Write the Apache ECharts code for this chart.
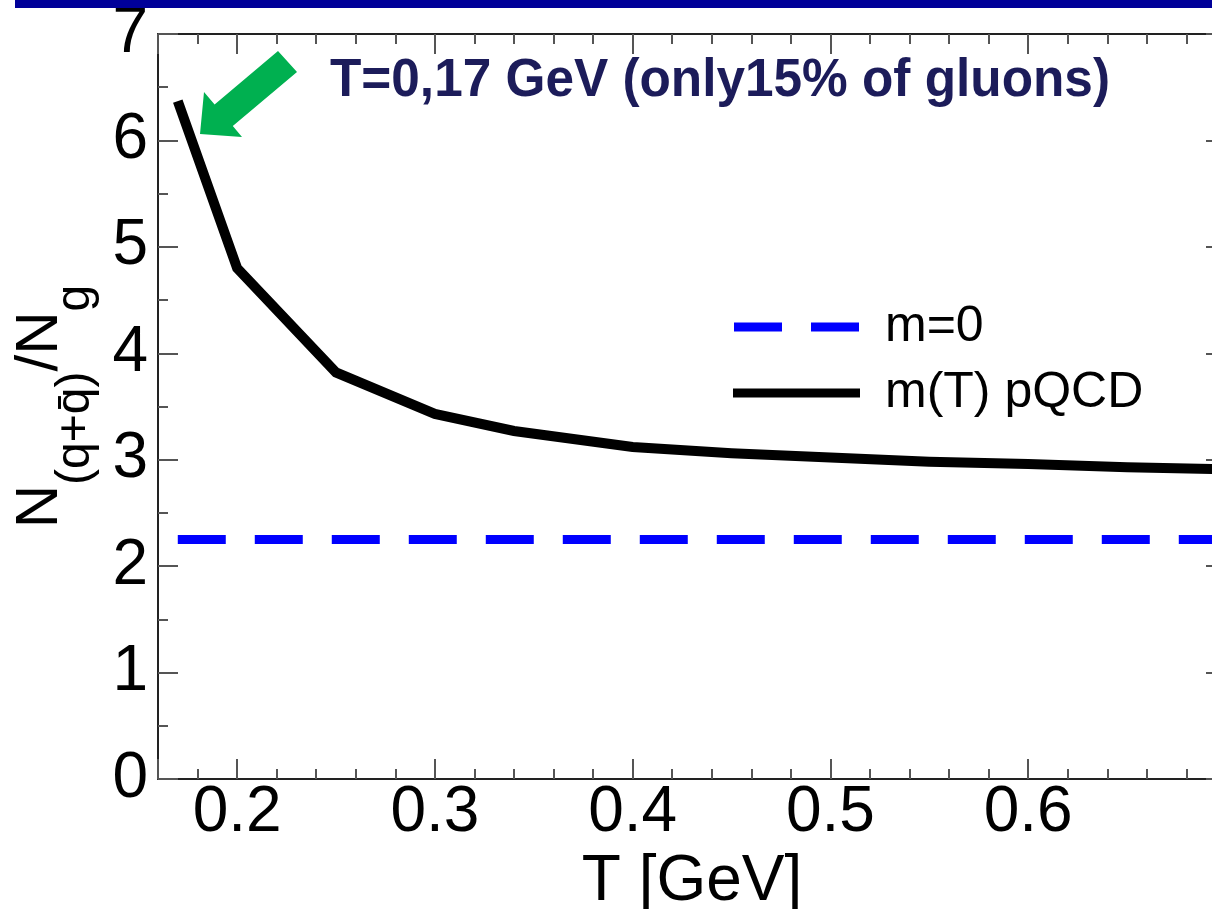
<!DOCTYPE html>
<html><head><meta charset="utf-8">
<script src="https://cdn.jsdelivr.net/npm/echarts@6/dist/echarts.min.js"></script>
<style>html,body{margin:0;padding:0;background:#fff}#c{width:1212px;height:909px}</style>
</head><body><div id="c"></div>
<script>
// ---- data ----
const T_mass = [0.17, 0.2, 0.25, 0.3, 0.34, 0.4, 0.45, 0.5, 0.55, 0.6, 0.65, 0.7];
const ratio_mass = [6.37, 4.80, 3.82, 3.43, 3.27, 3.12, 3.06, 3.02, 2.98, 2.96, 2.93, 2.91];
const T_massless = [0.17, 0.7];
const ratio_massless = [2.25, 2.25];
const seriesNames = ['m=0', 'm(T) pQCD'];
const xTickLabels = ['0.2', '0.3', '0.4', '0.5', '0.6'];
const annotationText = 'T=0,17 GeV (only15% of gluons)';
const xName = 'T [GeV]';

const FONT = '"Liberation Sans", Arial, Helvetica, sans-serif';
const AX = '#222';
const TK = '#555';

function zip(a, b) { return a.map((v, i) => [v, b[i]]); }

const chart = echarts.init(document.getElementById('c'), null, { renderer: 'canvas' });

const baseX = { type: 'value', min: 0.16, max: 0.7, splitLine: { show: false } };
const xAxes = [
  Object.assign({}, baseX, {
    position: 'bottom',
    axisLine: { show: true, lineStyle: { color: AX, width: 2 } },
    axisTick: { show: true, inside: true, length: 20, lineStyle: { color: TK, width: 2 } },
    axisLabel: {
      show: true, fontSize: 64, color: '#000', fontFamily: FONT, margin: 2,
      formatter: v => { const s = (Math.round(v * 10) / 10).toFixed(1); return (Math.abs(v * 10 - Math.round(v * 10)) < 1e-6 && xTickLabels.includes(s)) ? s : ''; }
    },
    name: xName, nameLocation: 'middle', nameGap: 62,
    nameTextStyle: { fontSize: 64, color: '#000', fontFamily: FONT }
  }),
  Object.assign({}, baseX, {
    position: 'bottom', interval: 0.02,
    axisLine: { show: false },
    axisTick: { show: true, inside: true, length: 10, lineStyle: { color: TK, width: 2 } },
    axisLabel: { show: false }
  }),
  Object.assign({}, baseX, {
    position: 'top',
    axisLine: { show: true, lineStyle: { color: AX, width: 2 } },
    axisTick: { show: true, inside: true, length: 20, lineStyle: { color: TK, width: 2 } },
    axisLabel: { show: false }
  }),
  Object.assign({}, baseX, {
    position: 'top', interval: 0.02,
    axisLine: { show: false },
    axisTick: { show: true, inside: true, length: 10, lineStyle: { color: TK, width: 2 } },
    axisLabel: { show: false }
  })
];

const baseY = { type: 'value', min: 0, max: 7, interval: 1, splitLine: { show: false } };
const yAxes = [
  Object.assign({}, baseY, {
    position: 'left',
    axisLine: { show: true, lineStyle: { color: AX, width: 2 } },
    axisTick: { show: true, inside: true, length: 20, lineStyle: { color: TK, width: 2 } },
    minorTick: { show: true, splitNumber: 2, length: 10, lineStyle: { color: TK, width: 2 } },
    axisLabel: { show: true, fontSize: 64, color: '#000', fontFamily: FONT, margin: 10 },
    name: '{n|N}{s|(q+q\u0304)}{n|/N}{s|g}',
    nameLocation: 'middle', nameRotate: 90, nameGap: 58,
    nameTextStyle: {
      color: '#000', fontFamily: FONT,
      rich: {
        n: { fontSize: 60, fontFamily: FONT, color: '#000', verticalAlign: 'top' },
        s: { fontSize: 48, fontFamily: FONT, color: '#000', verticalAlign: 'top', padding: [42, 0, 0, 0] }
      }
    }
  }),
  Object.assign({}, baseY, {
    position: 'right',
    axisLine: { show: true, lineStyle: { color: AX, width: 2 } },
    axisTick: { show: true, inside: true, length: 20, lineStyle: { color: TK, width: 2 } },
    minorTick: { show: true, splitNumber: 2, length: 10, lineStyle: { color: TK, width: 2 } },
    axisLabel: { show: false }
  })
];

const option = {
  animation: false,
  backgroundColor: '#fff',
  grid: { left: 158, top: 34, width: 1068, height: 745, containLabel: false, outerBoundsMode: 'none' },
  xAxis: xAxes,
  yAxis: yAxes,
  legend: {
    orient: 'vertical', left: 728, top: 297,
    itemWidth: 127, itemHeight: 9, itemGap: 16,
    data: [
      { name: seriesNames[0], icon: 'path://M0,0h48v9h-48z M77,0h48v9h-48z' },
      { name: seriesNames[1], icon: 'rect' }
    ],
    textStyle: { fontSize: 50, color: '#000', fontFamily: FONT, padding: [0, 0, 0, 20] },
    selectedMode: false
  },
  series: [
    {
      name: seriesNames[0], type: 'line', xAxisIndex: 0, yAxisIndex: 0,
      data: zip(T_massless, ratio_massless), symbol: 'none',
      itemStyle: { color: '#0000ff' },
      lineStyle: { color: '#0000ff', width: 9, type: [48, 29], cap: 'butt' }
    },
    {
      name: seriesNames[1], type: 'line', xAxisIndex: 0, yAxisIndex: 0,
      data: zip(T_mass, ratio_mass), symbol: 'none',
      itemStyle: { color: '#000' },
      lineStyle: { color: '#000', width: 10, join: 'miter', cap: 'butt' }
    }
  ]
};
chart.setOption(option);

// annotation: green arrow, caption, top banner
const ctx = document.createElement('canvas').getContext('2d');
const annFont = 'bold 53px "Liberation Sans"';
ctx.font = annFont;
const annW = ctx.measureText(annotationText).width;
const annScale = 780 / annW;

chart.setOption({
  graphic: [
    { type: 'rect', shape: { x: 15, y: 0, width: 1197, height: 8 }, style: { fill: '#000099' }, z: 100 },
    {
      type: 'polygon', z: 100,
      shape: { points: [[200, 134], [204, 92], [214.6, 104.5], [278, 51], [297, 72], [232.8, 126.1], [242, 137]] },
      style: { fill: '#00b050' }
    },
    {
      type: 'text', z: 100, x: 330, y: 81, scaleX: annScale, scaleY: 1,
      style: { text: annotationText, font: annFont, fill: '#1c1c5a', align: 'left', verticalAlign: 'middle' }
    }
  ]
});
</script></body></html>
